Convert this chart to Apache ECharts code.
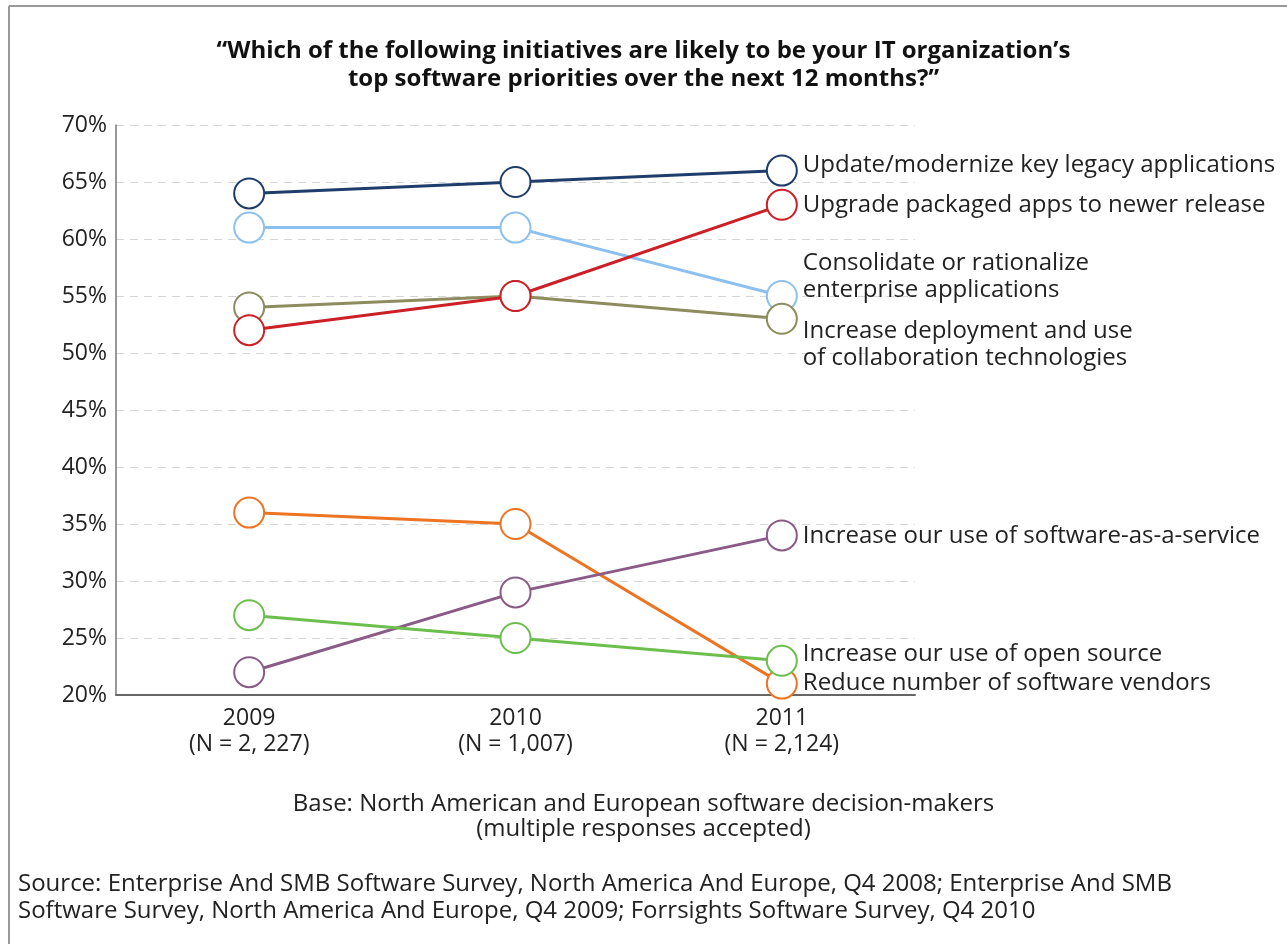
<!DOCTYPE html>
<html>
<head>
<meta charset="utf-8">
<script src="https://cdn.jsdelivr.net/npm/echarts@6/dist/echarts.min.js"></script>
<style>
html,body{margin:0;padding:0;background:#fff;}
#chart{width:1287px;height:944px;}
</style>
</head>
<body>
<div id="chart"></div>
<script>
const categories = ['2009\n(N = 2, 227)', '2010\n(N = 1,007)', '2011\n(N = 2,124)'];
const yTicks = [20, 25, 30, 35, 40, 45, 50, 55, 60, 65, 70];

const names = [
  'Update/modernize key legacy applications',
  'Consolidate or rationalize\nenterprise applications',
  'Increase deployment and use\nof collaboration technologies',
  'Upgrade packaged apps to newer release',
  'Reduce number of software vendors',
  'Increase our use of software-as-a-service',
  'Increase our use of open source'
];
const updateLegacy = [64, 65, 66];
const consolidate = [61, 61, 55];
const collaboration = [54, 55, 53];
const upgradePackaged = [52, 55, 63];
const reduceVendors = [36, 35, 21];
const saas = [22, 29, 34];
const openSource = [27, 25, 23];

const seriesData = [updateLegacy, consolidate, collaboration, upgradePackaged, reduceVendors, saas, openSource];
const colors = ['#1f3d6b', '#8cc0ee', '#8c8c5e', '#cc1f26', '#ec7422', '#8a5b86', '#6cbf4c'];
const labelOffsets = [[0, -5], [0, -19], [0, 26], [0, 0], [0, 0], [0, 1], [0, -7]];

const FONT = '"Open Sans", Lato, sans-serif';

const series = seriesData.map((vals, i) => ({
  name: names[i].replace('\n', ' '),
  type: 'line',
  symbol: 'circle',
  symbolSize: 30,
  z: 2 + i,
  lineStyle: { color: colors[i], width: 3 },
  itemStyle: { color: '#fff', borderColor: colors[i], borderWidth: 2 },
  data: vals.map((v, j) => {
    if (j === vals.length - 1) {
      return {
        value: v,
        label: {
          show: true,
          position: 'right',
          distance: 5,
          offset: labelOffsets[i],
          formatter: names[i],
          fontFamily: FONT,
          fontSize: 24,
          lineHeight: 27,
          color: '#222',
          align: 'left'
        }
      };
    }
    return v;
  }),
  emphasis: { disabled: true }
}));

const chart = echarts.init(document.getElementById('chart'));
chart.setOption({
  animation: false,
  backgroundColor: '#fff',
  title: {
    text: '“Which of the following initiatives are likely to be your IT organization’s\ntop software priorities over the next 12 months?”',
    left: 'center',
    top: 32,
    textStyle: { fontFamily: FONT, fontSize: 24, fontWeight: 'bold', color: '#111', lineHeight: 28 }
  },
  grid: { left: 116, right: 372, top: 125, bottom: 249 },
  xAxis: {
    type: 'category',
    data: categories,
    boundaryGap: true,
    axisLine: { lineStyle: { color: '#666', width: 2 } },
    axisTick: { show: false },
    axisLabel: { fontFamily: FONT, fontSize: 23, color: '#222', lineHeight: 26, margin: 10 }
  },
  yAxis: {
    type: 'value',
    min: yTicks[0],
    max: yTicks[yTicks.length - 1],
    interval: 5,
    axisLine: { show: true, lineStyle: { color: '#777', width: 1.5 } },
    axisTick: { show: false },
    axisLabel: { formatter: '{value}%', fontFamily: FONT, fontSize: 23, color: '#222', margin: 9 },
    splitLine: { show: true, lineStyle: { color: '#d6d6d6', type: [8, 6], width: 1 } }
  },
  series: series,
  graphic: [
    { type: 'line', shape: { x1: 9, y1: 6, x2: 1287, y2: 6 }, style: { stroke: '#999', lineWidth: 2 } },
    { type: 'line', shape: { x1: 9, y1: 6, x2: 9, y2: 944 }, style: { stroke: '#999', lineWidth: 2 } },
    {
      type: 'text', left: 'center', top: 792,
      style: {
        text: 'Base: North American and European software decision-makers\n(multiple responses accepted)',
        textAlign: 'center', fontFamily: FONT, fontSize: 24, lineHeight: 25, fill: '#222'
      }
    },
    {
      type: 'text', left: 18, top: 871,
      style: {
        text: 'Source: Enterprise And SMB Software Survey, North America And Europe, Q4 2008; Enterprise And SMB\nSoftware Survey, North America And Europe, Q4 2009; Forrsights Software Survey, Q4 2010',
        fontFamily: FONT, fontSize: 24, lineHeight: 27, fill: '#222'
      }
    }
  ]
});
</script>
</body>
</html>
